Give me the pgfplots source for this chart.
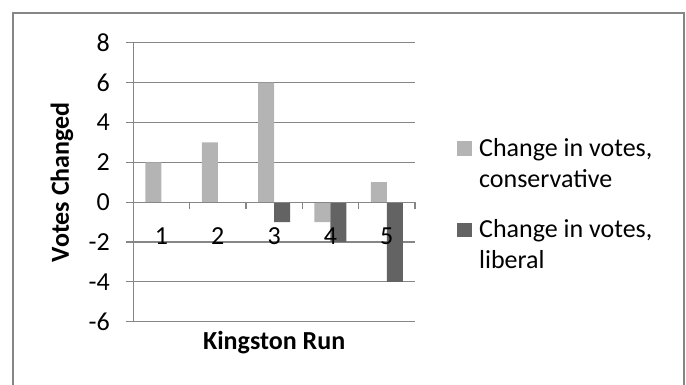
\documentclass[border=0pt]{standalone}
\usepackage{pgfplots}
\pgfplotsset{compat=1.18}
\usepackage{fontspec}
\setmainfont{Carlito}
\definecolor{axgray}{HTML}{868686}
\definecolor{cons}{HTML}{B4B4B4}
\definecolor{lib}{HTML}{636363}
\pgfplotsset{
  layers/mylayers/.define layer set={
    axis background,axis grid,axis ticks,main,axis lines,axis tick labels,axis descriptions,axis foreground
  }{/pgfplots/layers/standard},
}
\begin{document}
\begin{tikzpicture}[x=1pt,y=1pt]
\begin{axis}[
  set layers=mylayers,
  at={(133.3pt,62.3pt)}, anchor=south west,
  scale only axis, width=281.7pt, height=279pt,
  xmin=0.5, xmax=5.5, ymin=-6, ymax=8,
  axis x line*=middle, axis y line*=left,
  hide obscured x ticks=false, hide obscured y ticks=false,
  axis line style={axgray, line width=1.1pt},
  ytick={-6,-4,...,8}, yticklabels={-6,-4,-2,0,2,4,6,8},
  ymajorgrids, grid style={axgray, line width=1.1pt},
  xtick={0.5,1.5,...,5.5}, xticklabels={},
  extra x ticks={1,2,3,4,5}, extra x tick labels={1,2,3,4,5},
  extra x tick style={major tick length=0pt, grid=none, xticklabel style={yshift=-22pt}},
  tick align=outside, major tick length=7pt,
  tick style={axgray, line width=1.1pt},
  tick label style={font=\fontsize{26}{31}\selectfont, text=black},
  yticklabel style={xshift=-13pt},
  ylabel={Votes Changed},
  ylabel style={font=\bfseries\fontsize{26}{31}\selectfont, at={(axis description cs:-0.253,0.5)}, anchor=center},
  xlabel={Kingston Run},
  xlabel style={font=\bfseries\fontsize{26}{31}\selectfont, at={(axis description cs:0.5,-0.1014)}, anchor=base},
  legend style={at={(axis description cs:1.149,0.6656)}, anchor=north west, draw=none, fill=none,
    inner sep=0pt, row sep=27pt, column sep=5pt, font=\fontsize{26}{31}\selectfont,
    cells={anchor=base west, align=left, inner sep=0pt}},
]
\addplot[ybar, bar width=0.284, bar shift=-0.142, fill=cons, draw=none,
  legend image code/.code={\fill[cons] (0pt,31.5pt) rectangle (15pt,45.8pt);}]
  coordinates {(1,2) (2,3) (3,6) (4,-1) (5,1)};
\addlegendentry{Change in votes,\\conservative}
\addplot[ybar, bar width=0.284, bar shift=0.142, fill=lib, draw=none,
  legend image code/.code={\fill[lib] (0pt,31.5pt) rectangle (15pt,45.8pt);}]
  coordinates {(1,0) (2,0) (3,-1) (4,-2) (5,-4)};
\addlegendentry{Change in votes,\\liberal}
\end{axis}
\draw[axgray, line width=1.6pt] (13,-20) -- (13,371) -- (684,371) -- (684,-20);
\pgfresetboundingbox
\useasboundingbox (0,0) rectangle (686,384);
\end{tikzpicture}
\end{document}
